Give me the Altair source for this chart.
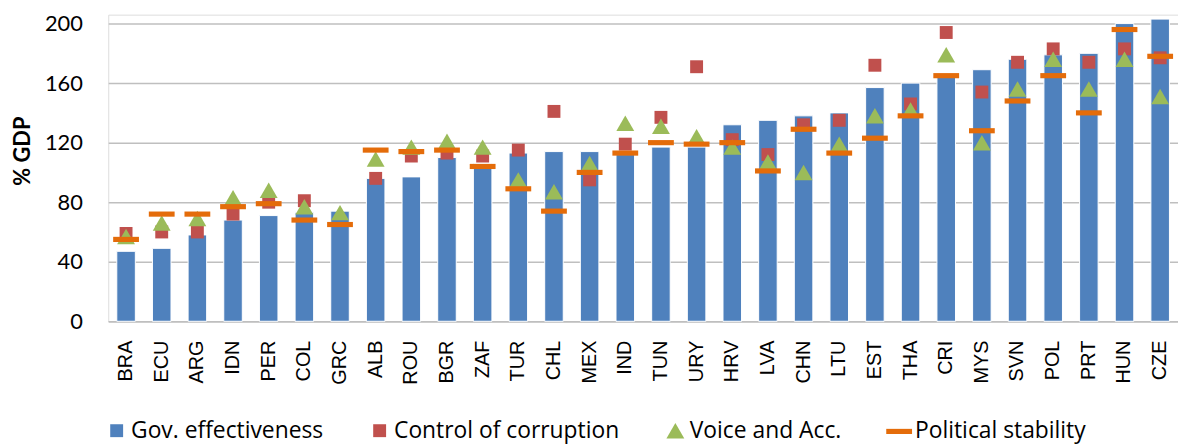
import altair as alt
import pandas as pd

countries = ["BRA", "ECU", "ARG", "IDN", "PER", "COL", "GRC", "ALB", "ROU", "BGR",
             "ZAF", "TUR", "CHL", "MEX", "IND", "TUN", "URY", "HRV", "LVA", "CHN",
             "LTU", "EST", "THA", "CRI", "MYS", "SVN", "POL", "PRT", "HUN", "CZE"]

gov_effectiveness = [47, 49, 58, 68, 71, 73, 74, 96, 97, 110,
                     106, 113, 114, 114, 112, 117, 117, 132, 135, 138,
                     140, 157, 160, 165, 169, 176, 179, 180, 200, 203]
control_of_corruption = [59, 60, 60, 72, 80, 81, None, 96, 111, 113,
                         111, 115, 141, 95, 119, 137, 171, 122, 112, 132,
                         135, 172, 146, 194, 154, 174, 183, 174, 183, 177]
voice_and_acc = [57, 66, 69, 83, 88, 77, 73, 109, 117, 121,
                 117, 95, 87, 106, 133, 131, 124, 117, 107, 100,
                 119, 138, 142, 179, 120, 156, 176, 156, 176, 151]
political_stability = [55, 72, 72, 77, 79, 68, 65, 115, 114, 115,
                       104, 89, 74, 100, 113, 120, 119, 120, 101, 129,
                       113, 123, 138, 165, 128, 148, 165, 140, 196, 178]

series_names = ["Gov. effectiveness", "Control of corruption", "Voice and Acc.", "Political stability"]
series_colors = ["#4F81BD", "#C0504D", "#9BBB59", "#E46C0A"]
dash_path = "M-1,-0.2L1,-0.2L1,0.2L-1,0.2Z"
series_shapes = ["square", "square", "triangle-up", dash_path]
series_sizes = [169, 169, 324, 676]

rows = []
for name, vals in zip(series_names, [gov_effectiveness, control_of_corruption,
                                     voice_and_acc, political_stability]):
    for c, v in zip(countries, vals):
        if v is not None:
            rows.append({"country": c, "series": name, "value": v})
df = pd.DataFrame(rows)

color_scale = alt.Scale(domain=series_names, range=series_colors)
shape_scale = alt.Scale(domain=series_names, range=series_shapes)
size_scale = alt.Scale(type="ordinal", domain=series_names, range=series_sizes)

legend = alt.Legend(title=None, orient="none", legendX=-3, legendY=407,
                    direction="horizontal", columnPadding=45, labelOffset=3,
                    padding=0,
                    labelFont="Open Sans", labelFontSize=23, labelColor="#000000",
                    labelLimit=400, symbolStrokeWidth=0, symbolOpacity=1)

x_enc = alt.X("country:N", sort=countries,
              scale=alt.Scale(paddingInner=0.48, paddingOuter=0.24),
              axis=alt.Axis(title=None, labelAngle=270, labelFont="Liberation Sans",
                            labelFontSize=20, labelColor="#000000", labelPadding=19,
                            ticks=False, domainColor="#BFBFBF", domainWidth=1.5))
y_enc = alt.Y("value:Q", scale=alt.Scale(domain=[0, 206], nice=False, zero=True),
              axis=alt.Axis(title="% GDP", values=[0, 40, 80, 120, 160, 200],
                            labelFont="Lato", labelFontSize=22, labelColor="#000000",
                            labelPadding=26, ticks=False, domain=False,
                            gridColor="#BFBFBF", gridWidth=1.5,
                            titleFont="Lato", titleFontSize=22, titleFontWeight="bold",
                            titleColor="#000000", titleAngle=270, titleX=-86, titleY=137,
                            titleAlign="center", titleBaseline="middle"))

base = alt.Chart(df)

bars = base.transform_filter(alt.datum.series == series_names[0]).mark_bar(
    stroke="#FFFFFF", strokeWidth=1
).encode(
    x=x_enc, y=y_enc,
    color=alt.Color("series:N", scale=color_scale, legend=legend),
)

points = base.transform_filter(alt.datum.series != series_names[0]).mark_point(
    filled=True, opacity=1, strokeWidth=0
).encode(
    x=x_enc, y=y_enc,
    color=alt.Color("series:N", scale=color_scale, legend=legend),
    shape=alt.Shape("series:N", scale=shape_scale, legend=legend),
    size=alt.Size("series:N", scale=size_scale, legend=legend),
)

chart = alt.layer(bars, points).properties(
    width=1078, height=309,
    autosize=alt.AutoSizeParams(type="none"),
    padding={"left": 101, "top": 5, "right": 0, "bottom": 125},
).configure_view(stroke=None).configure(background="#FFFFFF")

chart.save("out.html", embed_options={"renderer": "svg", "actions": False})
